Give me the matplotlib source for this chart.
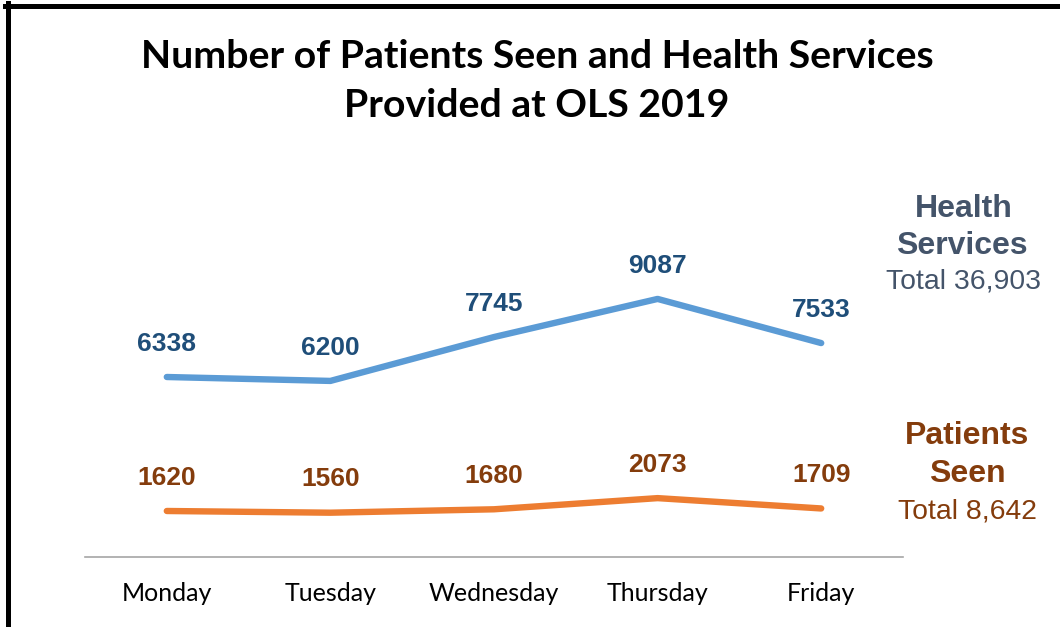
import matplotlib
matplotlib.use('Agg')
from matplotlib import pyplot as plt
from matplotlib.lines import Line2D

days = ['Monday', 'Tuesday', 'Wednesday', 'Thursday', 'Friday']
health = [6338, 6200, 7745, 9087, 7533]
patients = [1620, 1560, 1680, 2073, 1709]

W, H = 1060, 627
fig = plt.figure(figsize=(W / 100, H / 100), dpi=100)
ax = fig.add_axes([85 / W, 1 - 557 / H, (903 - 85) / W, (557 - 273) / H])

x = list(range(len(days)))
ax.plot(x, health, color='#5B9BD5', lw=4.6, solid_capstyle='round', solid_joinstyle='round')
ax.plot(x, patients, color='#ED7D31', lw=4.6, solid_capstyle='round', solid_joinstyle='round')

for i in x:
    ax.annotate(str(health[i]), (i, health[i]), xytext=(0, 24), textcoords='offset points',
                ha='center', va='center', fontsize=19, fontweight='bold',
                color='#1F4E79', family='Liberation Sans')
    ax.annotate(str(patients[i]), (i, patients[i]), xytext=(0, 24), textcoords='offset points',
                ha='center', va='center', fontsize=19, fontweight='bold',
                color='#843C0C', family='Liberation Sans')

ax.set_xlim(-0.5, len(days) - 0.5)
ax.set_ylim(0, 10000)
ax.set_xticks(x)
ax.set_xticklabels(days, family='Lato', fontsize=18)
ax.tick_params(axis='x', length=0, pad=18)
ax.set_yticks([])
for s in ['top', 'right', 'left']:
    ax.spines[s].set_visible(False)
ax.spines['bottom'].set_color('#A6A6A6')
ax.spines['bottom'].set_linewidth(1.2)

fig.text(537 / W, 1 - 81 / H, 'Number of Patients Seen and Health Services\nProvided at OLS 2019',
         ha='center', va='center', fontsize=28.3, fontweight='bold', family='Lato',
         linespacing=1.5)

slate = '#44546A'
brown = '#843C0C'
fig.text(964 / W, 1 - 209 / H, 'Health', ha='center', va='center', fontsize=23,
         fontweight='bold', color=slate, family='Liberation Sans')
fig.text(962 / W, 1 - 246 / H, 'Services', ha='center', va='center', fontsize=23,
         fontweight='bold', color=slate, family='Liberation Sans')
fig.text(963 / W, 1 - 282 / H, 'Total {:,}'.format(sum(health)), ha='center', va='center',
         fontsize=20.4, color=slate, family='Liberation Sans')
fig.text(967 / W, 1 - 436 / H, 'Patients', ha='center', va='center', fontsize=23,
         fontweight='bold', color=brown, family='Liberation Sans')
fig.text(967 / W, 1 - 474 / H, 'Seen', ha='center', va='center', fontsize=23,
         fontweight='bold', color=brown, family='Liberation Sans')
fig.text(967 / W, 1 - 511 / H, 'Total {:,}'.format(sum(patients)), ha='center', va='center',
         fontsize=20.4, color=brown, family='Liberation Sans')

# frame: top and left edges only
fig.add_artist(Line2D([5 / W, 1], [1 - 5.5 / H, 1 - 5.5 / H], color='black', lw=3.6,
                      transform=fig.transFigure))
fig.add_artist(Line2D([7.5 / W, 7.5 / W], [0, 1 - 3 / H], color='black', lw=3.6,
                      transform=fig.transFigure))

fig.savefig('out.png', dpi=100)
